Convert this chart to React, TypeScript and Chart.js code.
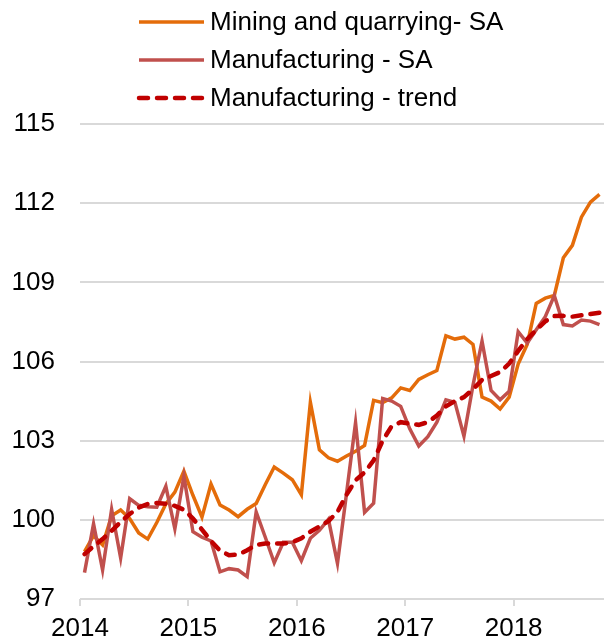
import React, { useEffect, useRef } from 'react';
import { Chart, registerables } from 'chart.js';

Chart.register(...registerables);

const yearLabels = ['2014', '2015', '2016', '2017', '2018'];
const yearStartMonths = [0, 12, 24, 36, 48];
const yTickValues = [97, 100, 103, 106, 109, 112, 115];

const seriesNames = ['Mining and quarrying- SA', 'Manufacturing - SA', 'Manufacturing - trend'];

// Monthly values, Jan 2014 .. Oct 2018
const miningSA = [
  98.8, 99.4, 99.05, 100.15, 100.37, 100.05, 99.5, 99.27, 99.9, 100.6, 101.05, 101.84,
  100.93, 100.1, 101.36, 100.56, 100.37, 100.12, 100.4, 100.62, 101.33, 102.0, 101.77, 101.52,
  100.95, 104.45, 102.65, 102.35, 102.22, 102.42, 102.6, 102.82, 104.53, 104.44, 104.62, 105.0,
  104.9, 105.32, 105.5, 105.66, 106.97, 106.85, 106.92, 106.65, 104.65, 104.5, 104.2, 104.65,
  105.9, 106.65, 108.2, 108.4, 108.5, 109.93, 110.4, 111.47, 112.04, 112.33,
];

const manufacturingSA = [
  98.0, 99.85, 98.1, 100.4, 98.55, 100.8, 100.55, 100.5, 100.48, 101.27, 99.66, 101.65,
  99.55, 99.34, 99.2, 98.03, 98.15, 98.1, 97.85, 100.3, 99.35, 98.37, 99.15, 99.15,
  98.45, 99.3, 99.6, 100.02, 98.35, 101.0, 103.68, 100.28, 100.63, 104.6, 104.5, 104.3,
  103.45, 102.8, 103.15, 103.7, 104.55, 104.45, 103.17, 105.1, 106.77, 104.9, 104.55, 104.87,
  107.13, 106.7, 107.2, 107.7, 108.5, 107.4, 107.35, 107.57, 107.53, 107.4,
];

const manufacturingTrend = [
  98.7, 99.0, 99.27, 99.58, 99.92, 100.22, 100.47, 100.6, 100.64, 100.61, 100.53, 100.38,
  100.05, 99.63, 99.2, 98.83, 98.66, 98.68, 98.85, 99.05, 99.1, 99.1, 99.1, 99.15,
  99.3, 99.55, 99.75, 99.95, 100.3, 100.95, 101.5, 101.8, 102.25, 103.0, 103.55, 103.7,
  103.65, 103.6, 103.7, 103.95, 104.3, 104.5, 104.65, 104.95, 105.3, 105.45, 105.6, 105.92,
  106.4, 106.85, 107.2, 107.52, 107.72, 107.73, 107.7, 107.75, 107.8, 107.85,
];

const FONT = '"Liberation Sans", Arial, sans-serif';
const FONT_SIZE = 26;

const toPoints = (vals: number[]) => vals.map((v, i) => ({ x: i + 0.5, y: v }));

const stackedLegend = {
  id: 'stackedLegend',
  afterDraw(chart: any) {
    const ctx = chart.ctx as CanvasRenderingContext2D;
    chart.data.datasets.forEach((ds: any, i: number) => {
      const y = 22 + i * 38;
      ctx.save();
      ctx.strokeStyle = ds.borderColor;
      ctx.lineWidth = ds.borderWidth;
      ctx.lineCap = ds.borderCapStyle || 'butt';
      ctx.setLineDash(ds.borderDash || []);
      ctx.beginPath();
      ctx.moveTo(139, y);
      ctx.lineTo(204, y);
      ctx.stroke();
      ctx.setLineDash([]);
      ctx.fillStyle = '#000000';
      ctx.font = `${FONT_SIZE}px ${FONT}`;
      ctx.textBaseline = 'middle';
      ctx.textAlign = 'left';
      ctx.fillText(ds.label, 210, y + 1);
      ctx.restore();
    });
  },
};

export default function App() {
  const canvasRef = useRef<HTMLCanvasElement | null>(null);

  useEffect(() => {
    document.body.style.margin = '0';
    const canvas = canvasRef.current;
    if (!canvas) return;
    const chart = new Chart(canvas, {
      type: 'line',
      data: {
        datasets: [
          {
            label: seriesNames[0],
            data: toPoints(miningSA),
            borderColor: '#E46C0A',
            borderWidth: 3.5,
            pointRadius: 0,
            tension: 0,
            order: 3,
          },
          {
            label: seriesNames[1],
            data: toPoints(manufacturingSA),
            borderColor: '#C0504D',
            borderWidth: 3.5,
            pointRadius: 0,
            tension: 0,
            order: 2,
          },
          {
            label: seriesNames[2],
            data: toPoints(manufacturingTrend),
            borderColor: '#C00000',
            borderWidth: 4.5,
            borderDash: [9, 9],
            borderCapStyle: 'round',
            pointRadius: 0,
            tension: 0,
            order: 1,
          },
        ],
      },
      options: {
        responsive: false,
        animation: false,
        layout: { padding: { top: 124, right: 0, bottom: 0, left: 0 } },
        plugins: {
          legend: { display: false },
          tooltip: { enabled: false },
        },
        scales: {
          x: {
            type: 'linear',
            min: 0,
            max: 58,
            afterBuildTicks: (scale: any) => {
              scale.ticks = yearStartMonths.map((v) => ({ value: v }));
            },
            afterFit: (scale: any) => {
              scale.height = 42;
            },
            grid: {
              drawOnChartArea: false,
              drawTicks: true,
              tickLength: 7,
              color: '#D9D9D9',
              lineWidth: 2,
            },
            border: { display: false },
            ticks: {
              autoSkip: false,
              maxRotation: 0,
              padding: 7,
              color: '#000000',
              font: { family: FONT, size: FONT_SIZE },
              callback: (_v: any, idx: number) => yearLabels[idx],
            },
          },
          y: {
            min: 97,
            max: 115,
            afterBuildTicks: (scale: any) => {
              scale.ticks = yTickValues.map((v) => ({ value: v }));
            },
            afterFit: (scale: any) => {
              scale.width = 80;
            },
            grid: {
              drawTicks: false,
              color: '#D9D9D9',
              lineWidth: 2,
            },
            border: { display: false },
            ticks: {
              padding: 25,
              color: '#000000',
              font: { family: FONT, size: FONT_SIZE },
            },
          },
        },
      },
      plugins: [stackedLegend],
    });
    return () => chart.destroy();
  }, []);

  return (
    <div style={{ width: 604, height: 641 }}>
      <canvas ref={canvasRef} width={604} height={641} />
    </div>
  );
}
